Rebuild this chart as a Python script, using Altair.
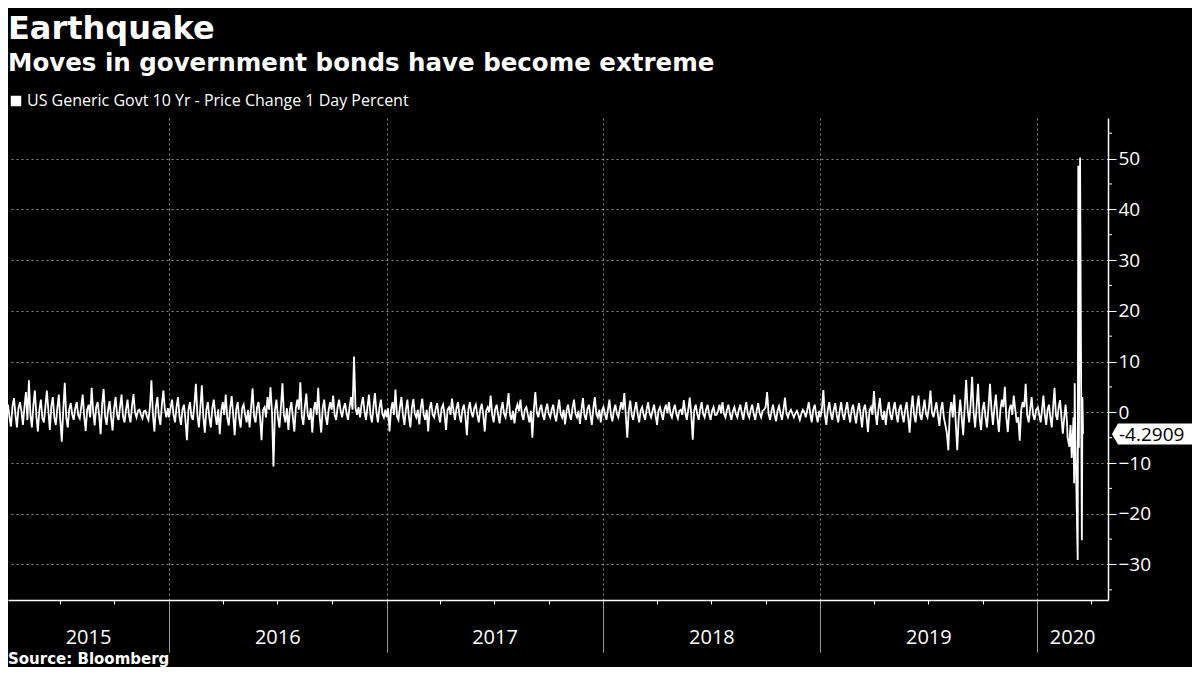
import altair as alt
import pandas as pd

SERIES = "US Generic Govt 10 Yr - Price Change 1 Day Percent"

v2015 = [1.5, -1.0, -2.8, 1.2, 2.8, -0.5, -3.0, 0.8, 2.0, 0.2, -2.5, 1.0, 4.0, -1.5, 6.3, -0.5,
         -3.0, 1.5, 4.3, -0.8, -3.8, 0.5, 2.5, -1.2, -2.0, 1.0, 4.3, 0.5, -3.5, 1.2, 3.0, -1.0,
         -2.5, 0.8, 3.5, -1.5, -5.8, 0.5, 5.8, -1.0, -3.0, 0.6, 1.8, -0.5, -1.5, 0.8, 2.0, -0.6,
         -1.2, 1.0, 3.5, -0.8, -3.7, 0.5, 1.5, -1.0, 4.8, 0.2, -2.6, 1.0, 2.0, -0.5, -4.3, 1.5,
         4.6, -0.8, -2.5, 0.5, 2.2, -1.0, -3.6, 0.8, 3.0, -0.5, -1.5, 1.0, 3.5, -0.8, -2.0, 0.5,
         2.5, -0.6, -2.0, 1.2, 3.6, 0.0, -1.0, 0.3, 0.5, -0.5, -1.2, 0.2, 0.3, -0.8, -1.5, 1.0,
         6.3, -0.5, -3.8, 1.0, 3.0, -0.8, -2.5, 1.5, 4.3, 0.5, -1.0, 0.8]
v2016 = [-1.0, 0.8, 2.5, -0.5, -2.0, 1.0, 3.0, -0.8, -2.5, 0.5, 1.5, -1.5, -5.5, 0.5, 2.0, -0.8,
         -1.5, 1.5, 5.6, -0.5, -3.0, 1.0, 5.3, -1.0, -4.0, 0.5, 2.0, -1.0, -3.0, 0.8, 2.5, -0.5,
         -2.5, 0.6, -4.3, 0.3, 2.0, -0.5, 3.5, -1.0, -2.6, 0.8, 3.2, -0.5, -4.5, 0.5, 2.0, -1.2,
         -3.0, 0.8, 1.5, -0.5, -2.0, 0.5, -3.0, 1.0, 4.7, -0.8, -2.0, 1.0, 2.0, -1.0, -5.5, 0.5,
         1.0, -1.0, 3.0, 0.5, 4.9, 0.0, -10.7, 0.5, 2.5, -1.0, -3.0, 1.0, 5.7, -0.5, -2.0, 0.8,
         -3.5, 0.5, 2.0, -1.0, -3.8, 0.8, 2.5, 0.5, 5.9, -0.8, -2.5, 1.0, 3.7, -0.5, -1.5, 0.8,
         -4.0, 0.5, 2.0, -0.5, 4.8, -1.0, -4.0, 0.8, 2.5, -0.8, -2.5, 0.5, 2.0, 0.5, 3.3, -0.5,
         -1.5, 1.0, 2.5, 0.3, -1.0, 0.8, 1.8, -0.3, -1.5, 1.0, 3.0, 0.5, 11.0, 0.8, -0.5, 1.0,
         -1.0, 1.5, 3.0, 0.2, -1.5, 1.0, 3.5, -0.5, -2.0, 1.0, 3.8, 0.0, -2.0, 0.8, 2.5, -0.3,
         -1.0, 0.5]
v2017 = [-1.0, 0.8, -3.8, 0.5, 2.0, -0.5, 4.5, -0.8, -1.5, 1.0, 3.0, -0.5, -2.5, 0.5, 2.5, -0.8,
         -3.0, 0.8, 2.6, -0.3, -1.0, 0.5, -2.4, 0.8, 2.7, -0.5, -1.5, 0.5, -3.8, 0.8, 2.0, -0.5,
         -1.0, 0.6, 1.8, -0.5, -2.0, 0.8, 1.5, -0.5, -3.5, 0.5, 1.0, -0.5, 2.7, 0.3, -1.5, 0.8,
         2.0, -0.6, -2.0, 0.5, 1.5, -0.8, -4.5, 0.5, 2.0, 0.0, -1.0, 0.8, 1.5, -0.5, -2.0, 0.5,
         1.7, -0.5, -3.8, 0.3, 1.0, 0.0, 3.3, -0.5, -2.0, 0.6, 1.5, -0.5, -2.2, 0.5, 2.0, -0.3,
         -1.0, 1.0, 3.8, -0.5, -1.5, 0.3, -2.2, 0.5, 1.5, 0.2, 2.5, -0.5, -1.5, 0.6, 1.0, -0.5,
         -2.0, 0.3, -5.0, 0.5, 4.0, 0.0, -1.0, 0.6, 1.5, -0.5, -1.5, 0.5, 1.7, -0.3, -1.0, 0.5,
         1.5, -0.6, -1.8, 0.5, 2.5, -0.3, -1.0, 0.5, -2.4, 0.3, 1.5, -0.5, -1.5, 0.8, 2.5, -0.3,
         -1.0, 0.3, -2.3, 0.5, 2.8, -0.5, -1.5, 0.6, 1.5, -0.5, -2.5, 0.8, 3.0, -0.3, -1.0, 0.5,
         -2.0, 0.5]
v2018 = [1.0, -0.3, -1.5, 0.5, 2.5, -0.5, -1.8, 0.3, 1.5, -0.3, -1.0, 0.6, 2.0, 0.5, 3.8, -0.5,
         -5.0, 0.3, 2.3, -0.5, -1.5, 0.5, 2.0, -0.3, -2.0, 0.3, 1.0, -0.5, -1.5, 0.5, 2.0, -0.2,
         -1.0, 0.3, 1.5, -0.5, -2.5, 0.3, 1.0, -0.3, -1.5, 0.5, 1.5, -0.2, 2.0, -0.3, -1.0, 0.5,
         1.5, -0.3, -1.2, 0.3, 0.5, -0.5, 2.4, 0.0, -1.5, 0.5, 2.9, -0.3, -5.4, 0.3, 1.5, -0.3,
         -1.5, 0.5, 2.0, -0.3, -1.0, 0.5, 1.5, -0.3, -1.5, 0.3, 1.0, -0.5, -0.5, 0.3, 1.5, -0.2,
         2.0, -0.3, -1.0, 0.5, 1.5, -0.3, -1.5, 0.2, 1.0, -0.3, -1.0, 0.5, 1.5, -0.2, -1.5, 0.5,
         2.0, -0.3, -1.0, 0.5, 1.5, -0.3, -1.5, 0.3, 1.8, -0.2, -1.0, 0.3, 0.5, 1.0, 4.0, -0.3,
         -1.5, 0.3, 1.5, -0.5, -1.8, 0.3, 1.2, -0.3, -1.5, 0.5, 2.9, -0.2, -1.0, 0.0, 0.5, -0.3,
         -1.0, -0.2, 0.3, -0.5, -1.5, -0.3, 0.5, 0.0, -1.0, 0.5, 2.0, -0.3, -2.0, 0.5, 1.5, -0.5,
         -2.0, 0.3]
v2019 = [-1.0, 0.5, 4.4, -0.5, -2.5, 0.5, 2.0, -0.3, -1.5, 0.5, 1.8, -0.5, -2.0, 0.3, 2.0, -0.5,
         -1.5, 0.5, 2.0, -0.3, -2.0, 0.5, 1.5, -0.5, -2.2, 0.3, 1.8, -0.5, -3.0, 0.5, 1.5, -0.8,
         -3.9, 0.3, 1.0, -0.5, 4.2, 0.0, -2.5, 0.5, 2.8, -0.5, -1.5, 0.3, -2.5, 0.5, 2.0, -0.5,
         -1.5, 0.5, 2.0, -0.3, -2.0, 0.5, 1.5, -0.5, -2.0, 0.5, 2.0, -1.0, -4.0, 0.5, 3.3, -0.5,
         -2.0, 1.0, 3.3, -0.5, -1.5, 0.5, 2.5, -0.3, -1.0, 1.0, 4.3, 0.0, -1.0, 0.5, 2.0, -0.5,
         -2.7, 0.5, 2.0, -1.0, -2.5, -4.0, -7.5, 0.0, 2.0, -1.0, 3.5, -2.0, -7.5, -1.0, 2.5, -1.0,
         -4.5, 1.0, 6.4, 0.5, -2.0, 1.5, 7.0, 0.0, -3.0, 1.0, 5.6, -1.0, -3.5, 0.5, 2.0, -1.0,
         -3.0, 1.0, 5.6, 0.5, -2.5, 1.0, 3.5, -1.0, -3.9, 0.5, 2.5, 1.0, 5.0, -1.0, -3.9, 0.5,
         1.5, -0.5, 3.3, 0.5, -2.0, -1.0, -5.6, 0.5, 2.0, 1.0, 5.6, -0.5, -2.0, 0.5, 3.0, -0.5,
         -1.5, 0.5]
v2020_early = [1.0, -0.5, -2.0, 0.5, 3.3, -0.5, -2.5, 0.5, 1.5, -1.0, -3.0, 1.0, 4.8, -0.5, -1.5,
               1.0, 2.4, -1.0, -4.2, -1.0, 1.5, -2.0]
march_dates = ["2020-02-21", "2020-02-24", "2020-02-25", "2020-02-26", "2020-02-27", "2020-02-28",
               "2020-03-02", "2020-03-03", "2020-03-04", "2020-03-05", "2020-03-06", "2020-03-09",
               "2020-03-10", "2020-03-11", "2020-03-12", "2020-03-13", "2020-03-16", "2020-03-17",
               "2020-03-18"]
march_vals = [-5.0, -6.8, -4.0, -2.5, -6.0, -9.0, -1.0, -14.0, 5.7, -5.0, -10.0, -29.1, 48.6,
              -7.0, 19.7, 50.2, -25.2, 3.0, -4.2909]

year_labels = ["2015", "2016", "2017", "2018", "2019", "2020"]
y_major = list(range(-30, 60, 10))
y_minor = list(range(-35, 60, 10))

DOMAIN_START = "2015-04-05"
DOMAIN_END = "2020-04-29"

# ---- build tables ----
parts = []
for vals, s, e in [(v2015, "2015-04-05", "2015-12-30"), (v2016, "2016-01-01", "2016-12-30"),
                   (v2017, "2017-01-01", "2017-12-30"), (v2018, "2018-01-01", "2018-12-30"),
                   (v2019, "2019-01-01", "2019-12-30"), (v2020_early, "2020-01-02", "2020-02-20")]:
    parts.append(pd.DataFrame({"date": pd.date_range(s, e, periods=len(vals)), "value": vals}))
parts.append(pd.DataFrame({"date": pd.to_datetime(march_dates), "value": march_vals}))
df = pd.concat(parts, ignore_index=True)
df["series"] = SERIES

last = df.iloc[[-1]].copy()
minor_df = pd.DataFrame({"value": y_minor})

yl_rows = []
for lab in year_labels:
    y = int(lab)
    a = max(pd.Timestamp(f"{y}-01-01"), pd.Timestamp(DOMAIN_START))
    b = min(pd.Timestamp(f"{y + 1}-01-01"), pd.Timestamp(DOMAIN_END))
    yl_rows.append({"date": a + (b - a) / 2, "label": lab})
years_df = pd.DataFrame(yl_rows)

quarters = []
for y in range(2015, 2021):
    for m in (1, 4, 7, 10):
        t = pd.Timestamp(year=y, month=m, day=1)
        if pd.Timestamp(DOMAIN_START) <= t <= pd.Timestamp(DOMAIN_END):
            quarters.append(alt.DateTime(year=y, month=m, date=1))

W, H = 1100, 482
is_year = "month(datum.value) === 0 && date(datum.value) === 1"

xscale = alt.Scale(domain=[alt.DateTime(year=2015, month=4, date=5),
                           alt.DateTime(year=2020, month=4, date=29)])
yscale = alt.Scale(domain=[-37, 58], nice=False, zero=False)

x_axis = alt.Axis(values=quarters, labels=False, title=None, domainColor="white", domainWidth=1.5,
                  grid=True, gridDash=[2, 3], gridColor="#8a8a8a",
                  gridOpacity={"condition": {"test": is_year, "value": 1}, "value": 0},
                  tickSize={"condition": {"test": is_year, "value": 52}, "value": 4},
                  tickColor={"condition": {"test": is_year, "value": "#9a9a9a"}, "value": "white"},
                  tickWidth=1)
y_axis = alt.Axis(orient="right", values=y_major, title=None, labelOverlap=False,
                  labelFont="Open Sans", labelFontSize=19, labelColor="white", labelPadding=2,
                  domainColor="white", domainWidth=1.5, tickColor="white", tickSize=8,
                  grid=True, gridDash=[2, 3], gridColor="#8a8a8a")

line = alt.Chart(df).mark_line(strokeWidth=1.8, interpolate="linear").encode(
    x=alt.X("date:T", scale=xscale, axis=x_axis),
    y=alt.Y("value:Q", scale=yscale, axis=y_axis),
    color=alt.Color("series:N", scale=alt.Scale(range=["#ffffff"]),
                    legend=alt.Legend(title=None, orient="none", legendX=0, legendY=-25,
                                      symbolType="square", symbolFillColor="white",
                                      symbolStrokeColor="white", symbolStrokeWidth=0,
                                      symbolSize=110, labelFont="Open Sans", labelFontSize=16,
                                      labelColor="white", labelOffset=3, labelLimit=0, padding=0)),
)

minor_ticks = alt.Chart(minor_df).mark_rule(color="white", strokeWidth=1).encode(
    y=alt.Y("value:Q", scale=yscale), x=alt.value(W), x2=alt.value(W + 4))

year_text = alt.Chart(years_df).mark_text(font="Open Sans", fontSize=20, color="white",
                                          baseline="middle", align="center").encode(
    x=alt.X("date:T", scale=xscale), y=alt.value(H + 38), text="label:N")

callout_box = alt.Chart(last).mark_point(
    shape="M0,0 L0.136,-0.24 L2,-0.24 L2,0.24 L0.136,0.24 Z", size=7744, filled=True,
    color="white", opacity=1, strokeWidth=0).encode(
    x=alt.value(W + 4), y=alt.Y("value:Q", scale=yscale))
callout_text = alt.Chart(last).transform_calculate(
    lbl="replace(format(datum.value, '.4f'), '\u2212', '-')"
).mark_text(font="Open Sans", fontSize=19, color="black",
            align="left", baseline="middle", dy=1).encode(
    x=alt.value(W + 11), y=alt.Y("value:Q", scale=yscale), text="lbl:N")

source = alt.Chart(pd.DataFrame({"t": ["Source: Bloomberg"]})).mark_text(
    font="DejaVu Sans", fontWeight="bold", fontSize=15, color="white",
    align="left", baseline="middle").encode(x=alt.value(0), y=alt.value(H + 59), text="t:N")

chart = alt.layer(line, minor_ticks, year_text, callout_box, callout_text, source).properties(
    width=W, height=H,
    title=alt.TitleParams("Earthquake", subtitle=["Moves in government bonds have become extreme"],
                          anchor="start", frame="group", font="DejaVu Sans", fontSize=32,
                          fontWeight="bold", color="white", subtitleFont="DejaVu Sans",
                          subtitleFontSize=24.5, subtitleFontWeight="bold", subtitleColor="white",
                          subtitlePadding=6, offset=17),
    autosize=alt.AutoSizeParams(type="none"),
    padding={"left": 0, "top": 110, "right": 84, "bottom": 67},
).configure(background="black").configure_view(stroke=None)

chart.save("out.html", embed_options={"renderer": "svg", "actions": False})
